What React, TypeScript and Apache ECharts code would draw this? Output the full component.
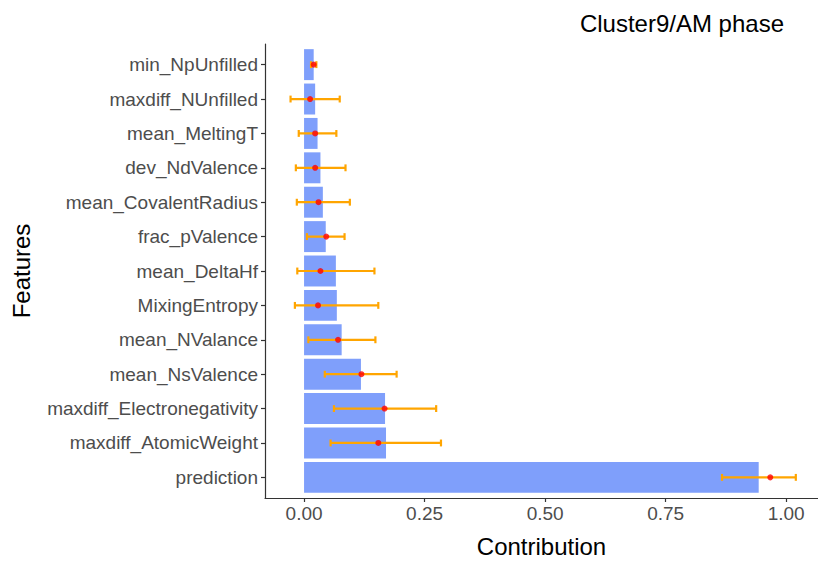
import React, { useEffect, useRef } from "react";
import * as echarts from "echarts";

// Features, bottom to top
const features = [
  "prediction",
  "maxdiff_AtomicWeight",
  "maxdiff_Electronegativity",
  "mean_NsValence",
  "mean_NValance",
  "MixingEntropy",
  "mean_DeltaHf",
  "frac_pValence",
  "mean_CovalentRadius",
  "dev_NdValence",
  "mean_MeltingT",
  "maxdiff_NUnfilled",
  "min_NpUnfilled",
];

// Mean absolute contribution (bar length)
const barValues = [0.943, 0.17, 0.168, 0.118, 0.078, 0.068, 0.066, 0.045, 0.039, 0.034, 0.028, 0.023, 0.02];

// Point estimate of the contribution
const pointValues = [0.967, 0.154, 0.167, 0.119, 0.0705, 0.029, 0.034, 0.046, 0.03, 0.023, 0.023, 0.0125, 0.02];

// Error bar limits
const lowerValues = [0.867, 0.055, 0.062, 0.043, 0.009, -0.019, -0.014, 0.006, -0.015, -0.017, -0.011, -0.028, 0.0145];
const upperValues = [1.02, 0.284, 0.274, 0.192, 0.148, 0.154, 0.146, 0.084, 0.095, 0.086, 0.067, 0.074, 0.0255];

const xTicks = [0, 0.25, 0.5, 0.75, 1.0];

const FONT = "Liberation Sans, Arial, Helvetica, sans-serif";

export default function App() {
  const ref = useRef<HTMLDivElement>(null);

  useEffect(() => {
    document.body.style.margin = "0";
    const chart = echarts.init(ref.current!, null, { renderer: "svg" });

    const rowIndex = features.map((_, i) => i);
    const barData = features.map((_, i) => [barValues[i], i]);
    const errorData = features.map((_, i) => [lowerValues[i], upperValues[i], i]);

    chart.setOption({
      animation: false,
      backgroundColor: "#ffffff",
      textStyle: { fontFamily: FONT },
      title: {
        text: "Cluster9/AM phase",
        right: 29,
        top: 6,
        textStyle: { fontFamily: FONT, fontSize: 24, fontWeight: "normal", color: "#000" },
      },
      grid: { left: 265, right: 0, top: 44, bottom: 58.5, containLabel: false },
      xAxis: {
        type: "value",
        min: -0.081,
        max: 1.066,
        name: "Contribution",
        nameLocation: "middle",
        nameGap: 36,
        nameTextStyle: { fontFamily: FONT, fontSize: 24, color: "#000" },
        splitLine: { show: false },
        axisLine: { show: true, onZero: false, lineStyle: { color: "#333", width: 1.2 } },
        axisTick: { show: true, customValues: xTicks, length: 4, lineStyle: { color: "#333", width: 1.2 } },
        axisLabel: {
          customValues: xTicks,
          formatter: (v: number) => v.toFixed(2),
          fontFamily: FONT,
          fontSize: 19,
          color: "#4d4d4d",
          margin: 6,
        },
      },
      yAxis: {
        type: "value",
        min: -0.6,
        max: features.length - 0.4,
        name: "Features",
        nameLocation: "middle",
        nameGap: 232,
        nameRotate: 90,
        nameTextStyle: { fontFamily: FONT, fontSize: 24, color: "#000" },
        axisLine: { show: true, onZero: false, lineStyle: { color: "#333", width: 1.2 } },
        axisTick: { show: true, customValues: rowIndex, length: 4, lineStyle: { color: "#333", width: 1.2 } },
        axisLabel: {
          customValues: rowIndex,
          formatter: (v: number) => features[Math.round(v)] ?? "",
          fontFamily: FONT,
          fontSize: 19,
          color: "#4d4d4d",
          margin: 7,
        },
        splitLine: { show: false },
      },
      series: [
        {
          type: "custom",
          data: barData,
          encode: { x: 0, y: 1 },
          z: 1,
          renderItem: (params: any, api: any) => {
            const start = api.coord([0, api.value(1)]);
            const end = api.coord([api.value(0), api.value(1)]);
            const h = api.size([0, 1])[1] * 0.9;
            return {
              type: "rect",
              shape: { x: start[0], y: start[1] - h / 2, width: end[0] - start[0], height: h },
              style: { fill: "#7f9ffb" },
            };
          },
        },
        {
          type: "custom",
          data: errorData,
          encode: { x: [0, 1], y: 2 },
          z: 2,
          renderItem: (params: any, api: any) => {
            const lo = api.coord([api.value(0), api.value(2)]);
            const hi = api.coord([api.value(1), api.value(2)]);
            const cap = api.size([0, 1])[1] * 0.1;
            const style = { stroke: "#ffa500", lineWidth: 2.2, fill: "none" };
            return {
              type: "group",
              children: [
                { type: "line", shape: { x1: lo[0], y1: lo[1], x2: hi[0], y2: hi[1] }, style },
                { type: "line", shape: { x1: lo[0], y1: lo[1] - cap, x2: lo[0], y2: lo[1] + cap }, style },
                { type: "line", shape: { x1: hi[0], y1: hi[1] - cap, x2: hi[0], y2: hi[1] + cap }, style },
              ],
            };
          },
        },
        {
          type: "scatter",
          data: pointValues.map((v, i) => [v, i]),
          symbol: "circle",
          symbolSize: 6,
          itemStyle: { color: "#ff0000" },
          z: 3,
        },
      ],
    });

    return () => chart.dispose();
  }, []);

  return <div ref={ref} style={{ width: 818, height: 563 }} />;
}
